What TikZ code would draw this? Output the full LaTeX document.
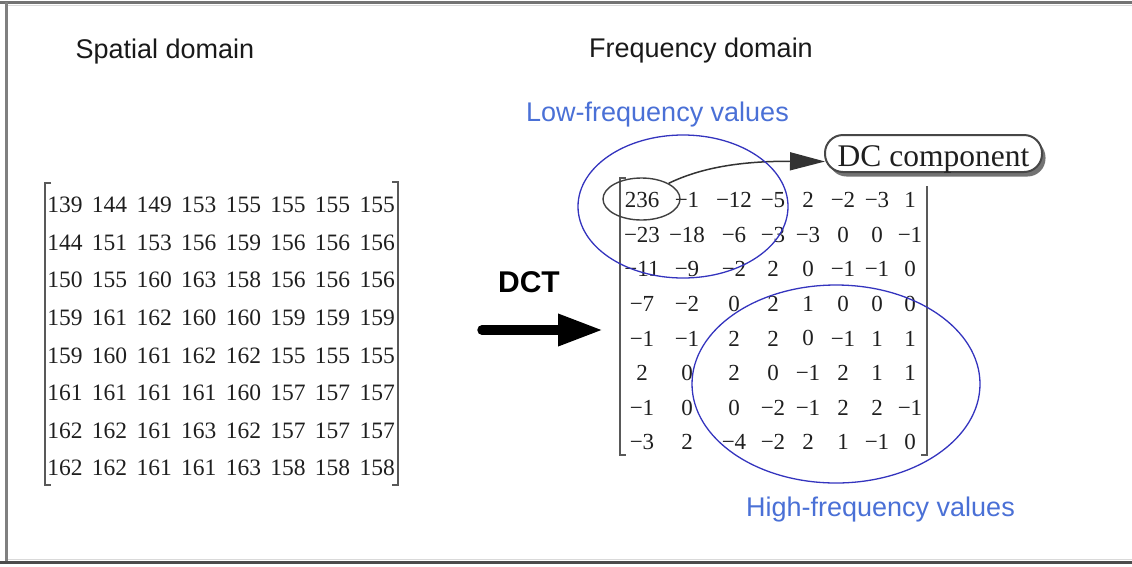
\documentclass[tikz,border=0pt]{standalone}
\usepackage{fontspec}
\setmainfont{Liberation Serif}
\newfontfamily\arialfont{Liberation Sans}
\usetikzlibrary{arrows.meta,shadows,calc,shapes.geometric}
\definecolor{labelblue}{RGB}{74,112,214}
\definecolor{ringblue}{RGB}{52,52,190}
\begin{document}
\begin{tikzpicture}[x=1pt,y=-1pt,
  heading/.style={font=\arialfont\fontsize{27}{32}\selectfont, text=black!90, inner sep=0pt, anchor=base},
  bluelabel/.style={font=\arialfont\fontsize{27}{32}\selectfont, text=labelblue, inner sep=0pt, anchor=base},
  cell/.style={font=\fontsize{23.5}{26}\selectfont, text=black!88, inner sep=0pt},
  fcell/.style={font=\fontsize{23}{26}\selectfont, text=black!88, inner sep=0pt},
  mbracket/.style={draw=black!65, line width=2.8pt},
  region/.style={draw=ringblue, line width=1.3pt, ellipse, inner sep=0pt},
]
\useasboundingbox (0,0) rectangle (1132,566);

% window frame
\draw[black!55, line width=3pt] (0,2) -- (1132,2);
\draw[black!15, line width=1pt] (8,5) -- (1132,5);
\draw[black!50, line width=2.5pt] (6.5,2) -- (6.5,562);
\draw[black!15, line width=1pt] (8,559) -- (1132,559);
\draw[black!70, line width=3pt] (0,562) -- (1132,562);

% headings
\node[heading] (spatial) at (165,58) {Spatial domain};
\node[heading] (freq) at (701,57) {Frequency domain};

% spatial block
\foreach \row [count=\r] in {
  {139,144,149,153,155,155,155,155},
  {144,151,153,156,159,156,156,156},
  {150,155,160,163,158,156,156,156},
  {159,161,162,160,160,159,159,159},
  {159,160,161,162,162,155,155,155},
  {161,161,161,161,160,157,157,157},
  {162,162,161,163,162,157,157,157},
  {162,162,161,161,163,158,158,158}} {
  \foreach \v [count=\c] in \row {
    \node[cell] (s-\r-\c) at ({65+44.6*(\c-1)}, {205+37.6*(\r-1)}) {\v};
  }
}
\draw[mbracket] (51,183) -- (45,183) -- (45,485) -- (51,485);
\draw[mbracket] (392,182) -- (398,182) -- (398,485) -- (392,485);

% DCT arrow
\node[font=\arialfont\bfseries\fontsize{30}{34}\selectfont, inner sep=0pt, anchor=base] (dct) at (529,292) {DCT};
\coordinate (a0) at (482,330);
\coordinate (a1) at (603,330);
\draw[black, line width=9.5pt, line cap=round, -{Triangle[length=45pt,width=30pt]}] (a0) -- (a1);

% coefficient block
\foreach \row [count=\r] in {
  {236,−1,−12,−5,2,−2,−3,1},
  {−23,−18,−6,−3,−3,0,0,−1},
  {−11,−9,−2,2,0,−1,−1,0},
  {−7,−2,0,2,1,0,0,0},
  {−1,−1,2,2,0,−1,1,1},
  {2,0,2,0,−1,2,1,1},
  {−1,0,0,−2,−1,2,2,−1},
  {−3,2,−4,−2,2,1,−1,0}} {
  \foreach \v [count=\c] in \row {
    \pgfmathsetmacro\xc{{642,687,734,773,808,843,877,910}[\c-1]}
    \node[fcell] (f-\r-\c) at ({\xc}, {200+34.6*(\r-1)}) {\v};
  }
}
\draw[mbracket] (626,178) -- (620,178) -- (620,455) -- (626,455);
\draw[mbracket] (927,186) -- (927,455) -- (921,455);

% DC coefficient ring and callout
\node[draw=black!75, line width=1.4pt, ellipse, inner sep=0pt, minimum width=77pt, minimum height=42pt] (dcring) at (641.5,199) {};
\node[draw=black!72, line width=2pt, rounded corners=18pt, minimum width=217pt, minimum height=37pt,
      fill=white, drop shadow={shadow xshift=3.5pt, shadow yshift=-4.5pt, fill=black!55, opacity=1},
      font=\fontsize{31.5}{34}\selectfont, text=black!88, inner sep=0pt, text height=26pt, text depth=0pt] (dc) at (933.5,153.5) {DC component};
\draw[black!80, line width=1.5pt, -{Triangle[length=35pt,width=18pt]}]
  (dcring.30) .. controls (700,168) and (740,161) .. ($(dc.west)+(1,8)$);

% frequency regions
\node[region, minimum width=210pt, minimum height=143pt] (low) at (683,206.5) {};
\node[region, minimum width=288pt, minimum height=198pt] (high) at (836,384) {};
\node[bluelabel] (lowlab) at (657.5,121.5) {Low-frequency values};
\node[bluelabel] (highlab) at (880.5,516.5) {High-frequency values};
\end{tikzpicture}
\end{document}
